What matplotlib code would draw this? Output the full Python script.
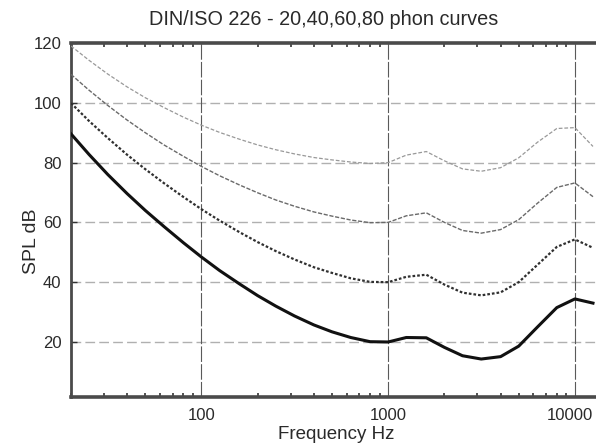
import matplotlib
matplotlib.use("Agg")
import matplotlib.pyplot as plt
import matplotlib.transforms as mtransforms
from matplotlib.ticker import LogLocator, NullFormatter, FixedLocator

# ISO 226 frequencies (Hz)
freqs = [20, 25, 31.5, 40, 50, 63, 80, 100, 125, 160, 200, 250, 315, 400, 500, 630, 800,
         1000, 1250, 1600, 2000, 2500, 3150, 4000, 5000, 6300, 8000, 10000, 12500]

# SPL (dB) for each loudness level
phon20 = [89.6, 82.7, 76.0, 69.6, 64.0, 58.6, 53.2, 48.4, 43.9, 39.4, 35.5, 32.0, 28.7, 25.7,
          23.4, 21.5, 20.1, 20.0, 21.5, 21.4, 18.2, 15.4, 14.3, 15.1, 18.6, 25.0, 31.5, 34.4, 33.0]
phon40 = [99.9, 93.9, 88.2, 82.6, 77.8, 73.1, 68.5, 64.4, 60.6, 56.7, 53.4, 50.4, 47.6, 45.0,
          43.1, 41.3, 40.1, 40.0, 41.8, 42.5, 39.2, 36.5, 35.6, 36.6, 40.0, 45.8, 51.8, 54.3, 51.5]
phon60 = [109.5, 104.2, 99.1, 94.2, 90.0, 85.9, 82.1, 78.7, 75.6, 72.5, 69.9, 67.5, 65.4, 63.5,
          62.1, 60.8, 59.9, 60.0, 62.2, 63.2, 60.0, 57.3, 56.4, 57.6, 60.9, 66.4, 71.7, 73.2, 68.6]
phon80 = [119.0, 114.2, 109.6, 105.3, 101.7, 98.4, 95.2, 92.5, 90.1, 87.8, 85.9, 84.3, 82.9, 81.7,
          80.9, 80.2, 79.7, 80.0, 82.5, 83.7, 80.6, 77.9, 77.1, 78.3, 81.6, 86.8, 91.4, 91.7, 85.4]

x_ticks = [100, 1000, 10000]
x_ticklabels = ["100", "1000", "10000"]
y_ticks = [20, 40, 60, 80, 100, 120]
y_ticklabels = ["20", "40", "60", "80", "100", "120"]

title = "DIN/ISO 226 - 20,40,60,80 phon curves"
xlabel = "Frequency Hz"
ylabel = "SPL dB"

plt.rcParams['font.family'] = ['Liberation Sans', 'DejaVu Sans']
txt = '#2a2a2a'

W, H = 596, 446
fig = plt.figure(figsize=(W / 100, H / 100), dpi=100)
left, right, top, bottom = 71, 613, 43, 397
ax = fig.add_axes([left / W, 1 - bottom / H, (right - left) / W, (bottom - top) / H])

ax.set_xscale('log')
ax.set_xlim(20, 16000)
ax.set_ylim(1.6, 120)

# grid
for yv in [20, 40, 60, 80, 100]:
    ax.axhline(yv, color='#b0b0b0', lw=1.0, dashes=(7, 3), zorder=1)
for xv in x_ticks:
    ax.axvline(xv, color='#5a5a5a', lw=0.8, dashes=(14, 2), zorder=1)

ax.plot(freqs, phon80, color='#999999', lw=0.9, dashes=(3, 1.5), zorder=3)
ax.plot(freqs, phon60, color='#6a6a6a', lw=1.0, dashes=(3, 1.2), zorder=3)
ax.plot(freqs, phon40, color='#303030', lw=1.6, dashes=(1.2, 0.9), zorder=3)
ax.plot(freqs, phon20, color='#111111', lw=2.2, zorder=4)

ax.xaxis.set_major_locator(FixedLocator(x_ticks))
ax.set_xticklabels(x_ticklabels)
ax.xaxis.set_minor_locator(LogLocator(base=10, subs=range(2, 10), numticks=20))
ax.xaxis.set_minor_formatter(NullFormatter())
ax.set_yticks(y_ticks)
ax.set_yticklabels(y_ticklabels)

ax.tick_params(axis='both', which='both', direction='in', top=True, right=False,
               colors='#333333', labelcolor=txt, labelsize=12)
ax.tick_params(axis='x', which='major', length=0, pad=8)
ax.tick_params(axis='x', which='minor', length=3, width=1.2)
ax.tick_params(axis='y', which='major', length=4, width=1.0, pad=7)

# keep the last x tick label inside the figure
last = ax.get_xticklabels()[-1]
last.set_transform(last.get_transform() +
                   mtransforms.ScaledTranslation(-5 / 100, 0, fig.dpi_scale_trans))

for s in ['top', 'bottom']:
    ax.spines[s].set_linewidth(2.6)
    ax.spines[s].set_color('#4a4a4a')
ax.spines['left'].set_linewidth(2.0)
ax.spines['left'].set_color('#4a4a4a')
ax.spines['right'].set_visible(False)

fig.text(324 / W, 1 - 25 / H, title, ha='center', va='baseline', fontsize=14.3, color=txt)
fig.text(336 / W, 1 - 439 / H, xlabel, ha='center', va='baseline', fontsize=13.5, color=txt)
fig.text(31 / W, 1 - 208 / H, ylabel, ha='right', va='center', rotation=90,
         rotation_mode='anchor', fontsize=14, color=txt)

fig.savefig("out.png", dpi=100)
